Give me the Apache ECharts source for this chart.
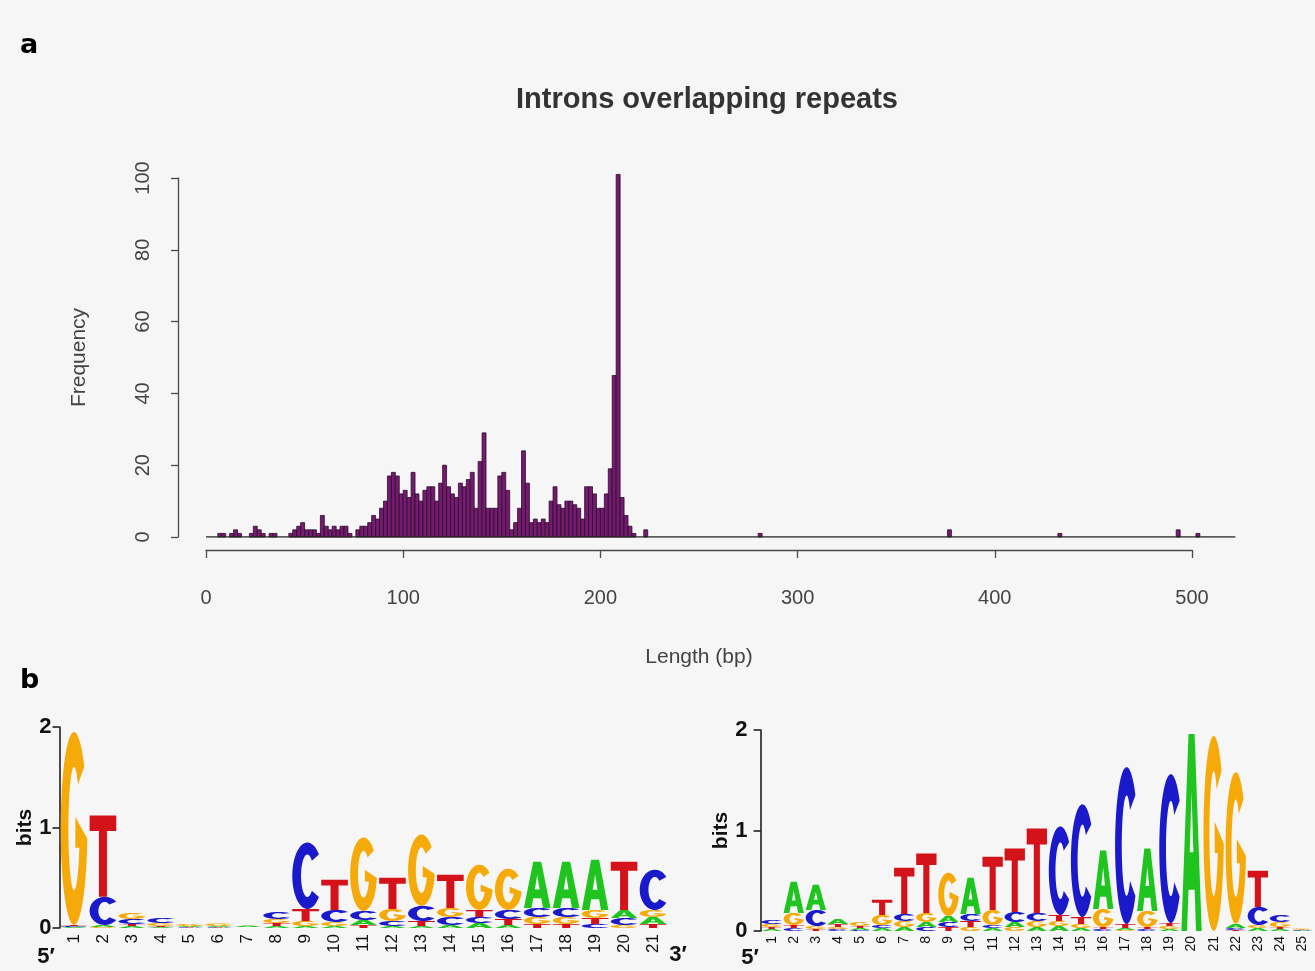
<!DOCTYPE html>
<html>
<head>
<meta charset="utf-8">
<script src="https://cdn.jsdelivr.net/npm/echarts@6/dist/echarts.min.js"></script>
<style>
  html, body { margin: 0; padding: 0; background: #f6f6f6; }
  #chart { width: 1315px; height: 971px; }
</style>
</head>
<body>
<div id="chart"></div>
<script>
// ---------- Panel a: intron length histogram (2 bp bins) ----------
const binWidth = 2;
const histEnd = 522;
const lengthTicks = [0, 100, 200, 300, 400, 500];
const freqTicks = [0, 20, 40, 60, 80, 100];
// counts for consecutive bins starting at 0, 2, 4, ... 222
const freqDense = [
  0, 0, 0, 1, 1, 0, 1, 2, 1, 0,      // 0-19
  0, 1, 3, 2, 1, 0, 1, 1, 0, 0,      // 20-39
  0, 1, 2, 3, 4, 2, 2, 2, 1, 6,      // 40-59
  3, 2, 3, 2, 3, 3, 1, 0, 2, 3,      // 60-79
  3, 4, 6, 5, 8, 10, 17, 18, 17, 12, // 80-99
  13, 11, 18, 12, 10, 13, 14, 14, 10, 15, // 100-119
  20, 14, 12, 11, 15, 14, 16, 18, 8, 21,  // 120-139
  29, 8, 8, 8, 17, 18, 13, 2, 4, 8,       // 140-159
  24, 15, 4, 5, 4, 5, 4, 10, 14, 9,       // 160-179
  8, 10, 10, 9, 8, 5, 14, 14, 12, 8,      // 180-199
  8, 12, 19, 45, 101, 11, 6, 3, 1, 0,     // 200-219
  0, 2                                    // 220-223
];
// isolated long introns: [bin start, count]
const freqSparse = [[280, 1], [376, 2], [432, 1], [492, 2], [502, 1]];

// ---------- Panel b: sequence logos (bits per base) ----------
const logoLetters = ['A', 'C', 'G', 'T'];
const letterColors = ['#1fc41f', '#1a1acb', '#f6aa0a', '#d3121a'];

// 5' splice site, positions 1-21
const donorPositions = ['1','2','3','4','5','6','7','8','9','10','11','12','13','14','15','16','17','18','19','20','21'];
const donorA = [0.01, 0.02, 0.02, 0.01, 0.01, 0.01, 0.015, 0.02, 0.02, 0.02, 0.05, 0.02, 0.02, 0.03, 0.05, 0.03, 0.46, 0.46, 0.50, 0.08, 0.07];
const donorC = [0.01, 0.28, 0.05, 0.05, 0.005, 0.005, 0.003, 0.07, 0.66, 0.12, 0.09, 0.05, 0.15, 0.08, 0.06, 0.09, 0.09, 0.09, 0.04, 0.07, 0.40];
const donorG = [1.92, 0.01, 0.06, 0.03, 0.02, 0.025, 0.003, 0.04, 0.05, 0.04, 0.73, 0.12, 0.71, 0.09, 0.45, 0.41, 0.07, 0.07, 0.08, 0.03, 0.07];
const donorT = [0.01, 0.81, 0.02, 0.01, 0.005, 0.005, 0.003, 0.03, 0.12, 0.30, 0.03, 0.31, 0.05, 0.33, 0.07, 0.06, 0.04, 0.04, 0.06, 0.48, 0.04];

// 3' splice site, positions 1-25
const acceptorPositions = ['1','2','3','4','5','6','7','8','9','10','11','12','13','14','15','16','17','18','19','20','21','22','23','24','25'];
const acceptorA = [0.02, 0.31, 0.25, 0.05, 0.02, 0.03, 0.04, 0.05, 0.06, 0.36, 0.03, 0.05, 0.04, 0.05, 0.03, 0.58, 0.02, 0.62, 0.02, 1.96, 0, 0.04, 0.03, 0.02, 0.005];
const acceptorC = [0.04, 0.03, 0.16, 0.02, 0.01, 0.03, 0.07, 0.04, 0.05, 0.07, 0.03, 0.10, 0.08, 0.88, 1.12, 0.02, 1.56, 0.02, 1.48, 0, 0, 0.02, 0.18, 0.07, 0.005];
const acceptorG = [0.03, 0.12, 0.03, 0.02, 0.04, 0.10, 0.06, 0.09, 0.43, 0.04, 0.15, 0.04, 0.06, 0.05, 0.04, 0.18, 0.01, 0.16, 0.03, 0, 1.94, 1.51, 0.03, 0.05, 0.01];
const acceptorT = [0.02, 0.03, 0.02, 0.03, 0.02, 0.15, 0.46, 0.59, 0.04, 0.06, 0.53, 0.63, 0.84, 0.06, 0.07, 0.02, 0.04, 0.02, 0.03, 0, 0, 0.01, 0.36, 0.02, 0.005];

// ---------- glyph outlines (unit box 0..100), stretched to each stack cell ----------
function arcPoints(cx, cy, rx, ry, a0, a1, n) {
  let s = '';
  for (let k = 0; k <= n; k++) {
    const a = (a0 + (a1 - a0) * k / n) * Math.PI / 180;
    s += ' L' + (cx + rx * Math.cos(a)).toFixed(2) + ',' + (cy + ry * Math.sin(a)).toFixed(2);
  }
  return s;
}
const glyphPaths = {
  A: 'M0,100 L35,0 L65,0 L100,100 L72,100 L65,79 L35,79 L28,100 Z M41,60 L59,60 L50,29 Z',
  T: 'M0,0 L100,0 L100,19 L65,19 L65,100 L35,100 L35,19 L0,19 Z',
  C: 'M88.3,17.9' + arcPoints(50, 50, 50, 50, -40, -320, 48) +
     arcPoints(50, 50, 21, 32, 45, 315, 40) + ' Z',
  G: 'M88.3,17.9' + arcPoints(50, 50, 50, 50, -40, -354, 52) +
     ' L55,44 L55,60 L70,60' + arcPoints(50, 50, 21, 32, 18, 315, 40) + ' Z'
};

// stack letters per column: smallest at the bottom, largest on top
function stackColumns(cols) {
  const out = [];
  const n = cols[0].length;
  for (let i = 0; i < n; i++) {
    const items = cols.map((arr, li) => ({ li, h: arr[i] }))
      .filter(d => d.h > 0)
      .sort((a, b) => a.h - b.h);
    let base = 0;
    items.forEach(d => { out.push([i, base, base + d.h, d.li]); base += d.h; });
  }
  return out;
}

function renderLetter(params, api) {
  const i = api.value(0);
  const y0 = api.value(1);
  const y1 = api.value(2);
  const li = api.value(3);
  const band = api.size([1, 0])[0];
  const w = band * 0.92;
  const bottom = api.coord([i, y0]);
  const top = api.coord([i, y1])[1];
  const h = bottom[1] - top;
  if (h < 0.4) return null;
  return {
    type: 'path',
    shape: {
      pathData: glyphPaths[logoLetters[li]],
      x: bottom[0] - w / 2, y: top, width: w, height: h,
      layout: 'cover'
    },
    style: { fill: letterColors[li] }
  };
}

// ---------- histogram rectangles ----------
const histBins = [];
freqDense.forEach((v, i) => { if (v > 0) histBins.push([i * binWidth, (i + 1) * binWidth, v]); });
freqSparse.forEach(([s, v]) => histBins.push([s, s + binWidth, v]));

function renderBin(params, api) {
  const a = api.coord([api.value(0), 0]);
  const b = api.coord([api.value(1), api.value(2)]);
  return {
    type: 'rect',
    shape: { x: a[0], y: b[1], width: b[0] - a[0], height: a[1] - b[1] },
    style: { fill: '#741a70', stroke: '#2c0c2a', lineWidth: 0.8 }
  };
}

const rFont = '"Liberation Sans", Arial, sans-serif';
const axisGrey = '#4a4a4a';

const chart = echarts.init(document.getElementById('chart'), null, { renderer: 'canvas' });

const hidden = { show: false };
const logoY = (labelMargin) => ({
  type: 'value', min: 0, max: 2, interval: 1,
  name: 'bits', nameLocation: 'middle',
  nameTextStyle: { fontFamily: rFont, fontWeight: 'bold', fontSize: 21, color: '#111' },
  axisLine: { show: true, lineStyle: { color: '#111', width: 1.5 } },
  axisTick: { show: true, length: 7, lineStyle: { color: '#111', width: 1.5 } },
  axisLabel: { fontFamily: rFont, fontWeight: 'bold', fontSize: 22, color: '#111', margin: labelMargin },
  splitLine: hidden
});

chart.setOption({
  backgroundColor: '#f6f6f6',
  animation: false,
  grid: [
    // 0: histogram bars
    { left: 206, top: 537 - 110 * 3.59, width: histEnd * 1.972, height: 110 * 3.59, containLabel: false, outerBoundsMode: 'none' },
    // 1: length axis
    { left: 206, top: 540, width: 986, height: 10, containLabel: false, outerBoundsMode: 'none' },
    // 2: frequency axis
    { left: 178, top: 178, width: 10, height: 359, containLabel: false, outerBoundsMode: 'none' },
    // 3: 5' logo
    { left: 59.5, top: 727, width: 608, height: 201, containLabel: false, outerBoundsMode: 'none' },
    // 4: 3' logo
    { left: 760.6, top: 730, width: 552.5, height: 201, containLabel: false, outerBoundsMode: 'none' }
  ],
  xAxis: [
    { gridIndex: 0, type: 'value', min: 0, max: histEnd, show: false },
    {
      gridIndex: 1, type: 'value', min: lengthTicks[0], max: lengthTicks[lengthTicks.length - 1], interval: 100,
      name: 'Length (bp)', nameLocation: 'middle', nameGap: 97,
      nameTextStyle: { fontFamily: rFont, fontSize: 21, color: '#444' },
      axisLine: { show: true, lineStyle: { color: axisGrey, width: 1.3 } },
      axisTick: { show: true, length: 8, lineStyle: { color: axisGrey, width: 1.3 } },
      axisLabel: { fontFamily: rFont, fontSize: 20, color: '#444', margin: 38 },
      splitLine: hidden
    },
    { gridIndex: 2, type: 'value', show: false },
    {
      gridIndex: 3, type: 'category', data: donorPositions, boundaryGap: true,
      axisLine: hidden, axisTick: hidden,
      axisLabel: { rotate: 90, fontFamily: rFont, fontSize: 17, color: '#111', margin: 6, interval: 0 }
    },
    {
      gridIndex: 4, type: 'category', data: acceptorPositions, boundaryGap: true,
      axisLine: hidden, axisTick: hidden,
      axisLabel: { rotate: 90, fontFamily: rFont, fontSize: 14, color: '#111', margin: 5, interval: 0 }
    }
  ],
  yAxis: [
    { gridIndex: 0, type: 'value', min: 0, max: 110, show: false },
    { gridIndex: 1, type: 'value', show: false },
    {
      gridIndex: 2, type: 'value', min: freqTicks[0], max: freqTicks[freqTicks.length - 1], interval: 20,
      name: 'Frequency', nameLocation: 'middle', nameGap: 88,
      nameTextStyle: { fontFamily: rFont, fontSize: 21, color: '#444' },
      axisLine: { show: true, lineStyle: { color: axisGrey, width: 1.3 } },
      axisTick: { show: true, length: 7, lineStyle: { color: axisGrey, width: 1.3 } },
      axisLabel: { rotate: 90, fontFamily: rFont, fontSize: 20, color: '#444', margin: 25 },
      splitLine: hidden
    },
    Object.assign({ gridIndex: 3, nameGap: 17 }, logoY(8)),
    Object.assign({ gridIndex: 4, nameGap: 26 }, logoY(13))
  ],
  series: [
    {
      type: 'custom', xAxisIndex: 0, yAxisIndex: 0, silent: true,
      data: histBins, encode: { x: [0, 1], y: 2 }, renderItem: renderBin
    },
    {
      type: 'line', xAxisIndex: 0, yAxisIndex: 0, silent: true, symbol: 'none',
      data: [[0, 0], [histEnd, 0]],
      lineStyle: { color: '#2a2a2a', width: 1.6 }
    },
    {
      type: 'custom', xAxisIndex: 3, yAxisIndex: 3, silent: true,
      data: stackColumns([donorA, donorC, donorG, donorT]),
      encode: { x: 0, y: [1, 2] }, renderItem: renderLetter
    },
    {
      type: 'custom', xAxisIndex: 4, yAxisIndex: 4, silent: true,
      data: stackColumns([acceptorA, acceptorC, acceptorG, acceptorT]),
      encode: { x: 0, y: [1, 2] }, renderItem: renderLetter
    }
  ],
  graphic: [
    { type: 'text', left: 20, top: 32, style: { text: 'a', font: 'bold 27px "DejaVu Sans", sans-serif', fill: '#000' } },
    { type: 'text', left: 20, top: 667, style: { text: 'b', font: 'bold 27px "DejaVu Sans", sans-serif', fill: '#000' } },
    { type: 'text', x: 707, y: 100, style: { text: 'Introns overlapping repeats', font: 'bold 29px ' + rFont, fill: '#333', textAlign: 'center', textVerticalAlign: 'middle' } },
    { type: 'text', x: 46, y: 957, style: { text: '5\u2032', font: 'bold 22px ' + rFont, fill: '#111', textAlign: 'center', textVerticalAlign: 'middle' } },
    { type: 'text', x: 678, y: 955, style: { text: '3\u2032', font: 'bold 22px ' + rFont, fill: '#111', textAlign: 'center', textVerticalAlign: 'middle' } },
    { type: 'text', x: 750, y: 958, style: { text: '5\u2032', font: 'bold 22px ' + rFont, fill: '#111', textAlign: 'center', textVerticalAlign: 'middle' } }
  ]
});
</script>
</body>
</html>
